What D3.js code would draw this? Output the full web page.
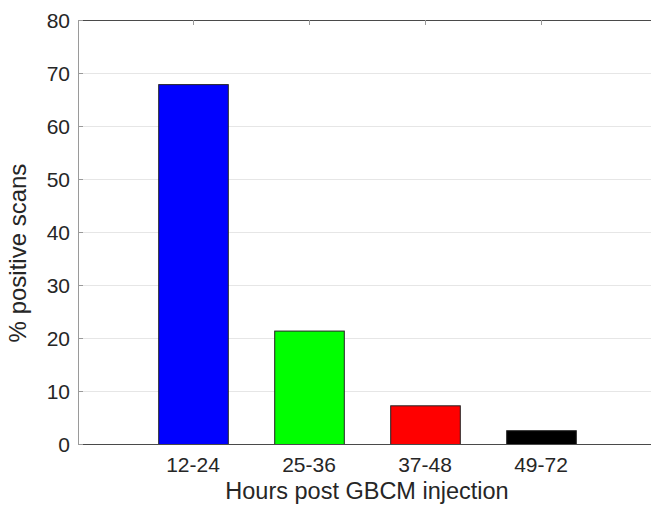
<!DOCTYPE html>
<html><head><meta charset="utf-8">
<script src="https://cdn.jsdelivr.net/npm/d3@7"></script>
<style>body{margin:0;background:#fff;} svg{display:block;}</style>
</head><body>
<svg id="c" width="651" height="506"></svg>
<script>
const categories = ["12-24", "25-36", "37-48", "49-72"];
const values = [67.9, 21.4, 7.3, 2.6];
const colors = ["#0000ff", "#00ff00", "#ff0000", "#000000"];
const yTicks = [0, 10, 20, 30, 40, 50, 60, 70, 80];

const svg = d3.select("#c");
const font = "'Liberation Sans', Arial, sans-serif";
const pLeft = 78, pTop = 20, pBottom = 444;
const step = 116;
// x positions: category index 1..4, limits 0..5
const x = d3.scaleLinear().domain([0, 5]).range([pLeft - 1, pLeft - 1 + 5 * step]);
const y = d3.scaleLinear().domain([0, 80]).range([pBottom, pTop]);
const bw = 0.6;

// grid
svg.append("g").selectAll("line").data(yTicks.filter(d => d > 0 && d < 80)).join("line")
  .attr("x1", pLeft).attr("x2", 651).attr("y1", d => y(d) + 0.5).attr("y2", d => y(d) + 0.5)
  .attr("stroke", "#e6e6e6").attr("stroke-width", 1);

// bars
svg.append("g").selectAll("rect").data(values).join("rect")
  .attr("x", (d, i) => x(i + 1 - bw / 2) + 0.5)
  .attr("width", x(bw) - x(0))
  .attr("y", d => y(d) + 0.5)
  .attr("height", d => y(0) - y(d))
  .attr("fill", (d, i) => colors[i])
  .attr("stroke", "#222").attr("stroke-width", 1);

// axes lines
svg.append("line").attr("x1", pLeft).attr("x2", 651).attr("y1", pTop + 0.5).attr("y2", pTop + 0.5)
  .attr("stroke", "#4a4a4a");
svg.append("line").attr("x1", pLeft).attr("x2", 651).attr("y1", pBottom + 0.5).attr("y2", pBottom + 0.5)
  .attr("stroke", "#4a4a4a");
svg.append("line").attr("x1", pLeft + 0.5).attr("x2", pLeft + 0.5).attr("y1", pTop).attr("y2", pBottom + 1)
  .attr("stroke", "#9a9a9a");

// y ticks
svg.append("g").selectAll("line").data(yTicks).join("line")
  .attr("x1", pLeft).attr("x2", pLeft + 5).attr("y1", d => y(d) + 0.5).attr("y2", d => y(d) + 0.5)
  .attr("stroke", "#9a9a9a");
svg.append("g").selectAll("text").data(yTicks).join("text")
  .attr("x", pLeft - 8).attr("y", d => y(d)).attr("dy", "0.36em")
  .attr("text-anchor", "end").attr("font-family", font).attr("font-size", 21)
  .attr("fill", "#262626").text(d => d);

// x ticks (top, inward)
svg.append("g").selectAll("line").data(categories).join("line")
  .attr("x1", (d, i) => x(i + 1) + 0.5).attr("x2", (d, i) => x(i + 1) + 0.5)
  .attr("y1", pTop).attr("y2", pTop + 5).attr("stroke", "#9a9a9a");
svg.append("g").selectAll("text").data(categories).join("text")
  .attr("x", (d, i) => x(i + 1)).attr("y", 472)
  .attr("text-anchor", "middle").attr("font-family", font).attr("font-size", 21)
  .attr("fill", "#262626").text(d => d);

// axis labels
svg.append("text").attr("x", 367).attr("y", 499).attr("text-anchor", "middle")
  .attr("font-family", font).attr("font-size", 23.5).attr("fill", "#262626")
  .text("Hours post GBCM injection");
svg.append("text").attr("transform", "translate(26,253) rotate(-90)").attr("text-anchor", "middle")
  .attr("font-family", font).attr("font-size", 24).attr("fill", "#262626")
  .text("% positive scans");
</script>
</body></html>
